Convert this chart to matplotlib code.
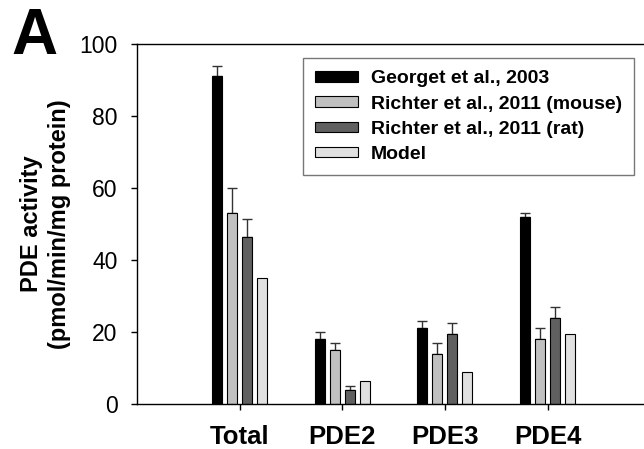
import numpy as np
import matplotlib
matplotlib.use("Agg")
import matplotlib.pyplot as plt

plt.rcParams['font.family'] = ['Liberation Sans', 'DejaVu Sans']

categories = ["Total", "PDE2", "PDE3", "PDE4"]
series_names = ["Georget et al., 2003", "Richter et al., 2011 (mouse)",
                "Richter et al., 2011 (rat)", "Model"]
georget = [91, 18, 21, 52]
georget_err = [3, 2, 2, 1]
richter_mouse = [53, 15, 14, 18]
richter_mouse_err = [7, 2, 3, 3]
richter_rat = [46.5, 4, 19.5, 24]
richter_rat_err = [5, 1, 3, 3]
model = [35, 6.5, 9, 19.5]

values = [georget, richter_mouse, richter_rat, model]
errors = [georget_err, richter_mouse_err, richter_rat_err, None]
colors = ["#000000", "#c0c0c0", "#606060", "#e0e0e0"]

fig = plt.figure(figsize=(6.44, 4.49), dpi=100)
ax = fig.add_axes([0.2127, 0.1002, 0.7873, 0.8018])

x = np.arange(1, len(categories) + 1)
width = 0.097
stride = 0.146
for i, (vals, errs, col, name) in enumerate(zip(values, errors, colors, series_names)):
    pos = x + (i - 1.5) * stride
    ax.bar(pos, vals, width=width, color=col, edgecolor="black", linewidth=0.8,
           label=name, zorder=2)
    if errs is not None:
        ax.errorbar(pos, vals, yerr=[np.zeros(len(errs)), errs], fmt="none",
                    ecolor="#333333", elinewidth=1.0, capsize=3.6, capthick=1.0,
                    zorder=1)

ax.set_xlim(0, 4.94)
ax.set_ylim(0, 100)
ax.set_yticks([0, 20, 40, 60, 80, 100])
ax.set_xticks(x)
ax.set_xticklabels(categories, fontsize=18.5, fontweight="bold")
ax.tick_params(axis="y", direction="out", length=4, width=1, labelsize=16.5, pad=10)
ax.tick_params(axis="x", direction="out", length=4, width=1, pad=11)
ax.spines["right"].set_visible(False)
for s in ["left", "bottom", "top"]:
    ax.spines[s].set_linewidth(1.0)

ax.set_ylabel("PDE activity\n(pmol/min/mg protein)", fontsize=17,
              fontweight="bold", linespacing=1.3)
ax.yaxis.set_label_coords(-0.13, 0.5)

leg = ax.legend(loc="upper right", bbox_to_anchor=(0.98, 0.96),
                prop={"size": 14, "weight": "bold"}, frameon=True, fancybox=False,
                handlelength=2.2, handleheight=0.45, labelspacing=0.42,
                borderpad=0.62, handletextpad=0.65, borderaxespad=0)
leg.get_frame().set_edgecolor("#555555")
leg.get_frame().set_linewidth(1.0)

fig.text(0.017, 0.88, "A", fontsize=46, fontweight="bold")

fig.savefig("out.png", dpi=100)
